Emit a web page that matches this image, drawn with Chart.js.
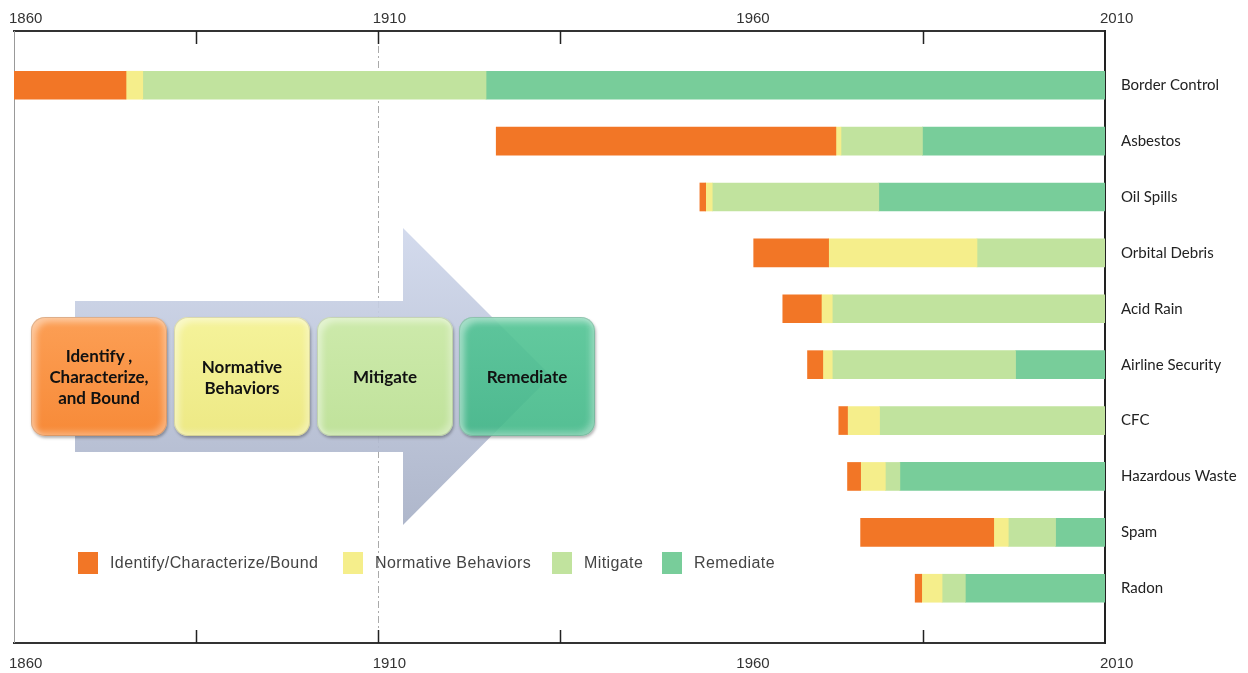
<!DOCTYPE html>
<html>
<head>
<meta charset="utf-8">
<script src="https://cdn.jsdelivr.net/npm/chart.js@4"></script>
<style>
  body { margin: 0; background: #fff; }
  #wrap { position: relative; width: 1248px; height: 673px; }
  #arrow { position: absolute; left: 0; top: 0; pointer-events: none; }
  .box {
    position: absolute; top: 317px; width: 136px; height: 119px;
    border-radius: 14px; display: flex; align-items: center; justify-content: center;
    text-align: center; font: bold 17px Lato, sans-serif; line-height: 21px; color: #111;
    box-sizing: border-box;
    box-shadow: inset 0 0 0 1px rgba(0,0,0,0.12), inset 5px 5px 6px rgba(255,255,255,0.45),
      inset -4px -4px 6px rgba(255,255,255,0.35), 1px 2px 3px rgba(0,0,0,0.3);
  }
  #legend { position: absolute; left: 0; top: 552px; width: 900px; height: 22px;
    font: 16px "Liberation Sans", Arial, sans-serif; letter-spacing: 0.4px; color: #444; }
  #legend .item { position: absolute; top: 0; display: flex; align-items: center; height: 22px; white-space: nowrap; }
  #legend .sw { width: 20px; height: 22px; margin-right: 12px; }
</style>
</head>
<body>
<div id="wrap">
  <canvas id="chart" width="1248" height="673"></canvas>
  <svg id="arrow" width="1248" height="673">
    <defs>
      <linearGradient id="arrowFill" x1="0" y1="0" x2="0" y2="1">
        <stop offset="0" stop-color="#d0d8ec"/>
        <stop offset="1" stop-color="#a8b1c7"/>
      </linearGradient>
    </defs>
    <polygon points="75,301 403,301 403,228 551,376 403,525 403,452 75,452" fill="url(#arrowFill)" opacity="0.92"/>
  </svg>
  <div class="box" style="left:31px;background:linear-gradient(#fc9f55,#f78a38)">Identify ,<br>Characterize,<br>and Bound</div>
  <div class="box" style="left:174px;background:linear-gradient(#f5f39a,#ede985)">Normative<br>Behaviors</div>
  <div class="box" style="left:317px;background:linear-gradient(#cdeaab,#c0e29b)">Mitigate</div>
  <div class="box" style="left:459px;background:linear-gradient(rgba(82,196,148,0.9),rgba(66,184,136,0.9))">Remediate</div>
  <div id="legend"></div>
</div>
<script>
// ---------- DATA ----------
const categories = ["Border Control", "Asbestos", "Oil Spills", "Orbital Debris", "Acid Rain",
  "Airline Security", "CFC", "Hazardous Waste", "Spam", "Radon"];

// year each stage begins (a stage ends where the next one begins)
const identifyStart = [1860, 1926.3, 1954.3, 1961.7, 1965.7, 1969.1, 1973.4, 1974.6, 1976.4, 1983.9];
const normativeStart = [1875.4, 1973.0, 1955.1, 1972.0, 1971.0, 1971.2, 1974.6, 1976.4, 1994.7, 1984.8];
const mitigateStart = [1877.7, 1973.7, 1956.0, 1992.4, 1972.5, 1972.5, 1979.0, 1979.8, 1996.7, 1987.6];
const remediateStart = [1924.9, 1984.9, 1978.9, 2010, 2010, 1997.7, 2010, 1981.8, 2003.2, 1990.8];
const endYear = [2010, 2010, 2010, 2010, 2010, 2010, 2010, 2010, 2010, 2010];

const stageNames = ["Identify/Characterize/Bound", "Normative Behaviors", "Mitigate", "Remediate"];
const stageColors = ["#f27626", "#f5ee8b", "#c1e39e", "#78cd9a"];

const yearTicks = [1860, 1910, 1960, 2010];
const minorTicks = [1885, 1910, 1935, 1985];
const markerYear = 1910;

// ---------- BUILD DATASETS ----------
const bounds = [identifyStart, normativeStart, mitigateStart, remediateStart, endYear];

const datasets = stageNames.map((name, s) => ({
  label: name,
  backgroundColor: stageColors[s],
  borderWidth: 0,
  grouped: false,
  barThickness: 28,
  data: categories.map((c, i) => {
    const a = bounds[s][i], b = bounds[s + 1][i];
    return { x: b > a ? [a, b] : null, y: i };
  })
}));

// ---------- LEGEND ----------
const legend = document.getElementById("legend");
const legendLeft = [78, 343, 552, 662];
stageNames.forEach((name, s) => {
  const item = document.createElement("div");
  item.className = "item";
  item.style.left = legendLeft[s] + "px";
  item.innerHTML = '<span class="sw" style="background:' + stageColors[s] + '"></span>' + name;
  legend.appendChild(item);
});

// inward tick marks, left frame line and the dashed marker line
const axisMarks = {
  id: "axisMarks",
  beforeDatasetsDraw(chart) {
    const { ctx, chartArea: a, scales } = chart;
    ctx.save();
    ctx.strokeStyle = "#999";
    ctx.lineWidth = 1;
    ctx.beginPath();
    ctx.moveTo(a.left + 0.5, a.top);
    ctx.lineTo(a.left + 0.5, a.bottom);
    ctx.stroke();

    const mx = Math.round(scales.x.getPixelForValue(markerYear)) + 0.5;
    ctx.strokeStyle = "#aaa";
    ctx.setLineDash([7, 3, 2, 3]);
    ctx.beginPath();
    ctx.moveTo(mx, a.top);
    ctx.lineTo(mx, a.bottom);
    ctx.stroke();
    ctx.setLineDash([]);

    ctx.strokeStyle = "#222";
    ctx.lineWidth = 1.5;
    minorTicks.forEach(v => {
      const px = Math.round(scales.x.getPixelForValue(v)) + 0.5;
      ctx.beginPath();
      ctx.moveTo(px, a.top);
      ctx.lineTo(px, a.top + 13);
      ctx.moveTo(px, a.bottom);
      ctx.lineTo(px, a.bottom - 13);
      ctx.stroke();
    });
    ctx.restore();
  }
};

// ---------- CHART ----------
const yearTickFont = { family: "'Liberation Sans', Arial, sans-serif", size: 15 };

function yearAxis(pos, h, pad) {
  return {
    type: "linear",
    position: pos,
    min: 1860,
    max: 2010,
    offset: false,
    grid: { display: false, drawTicks: false },
    border: { display: true, color: "#333", width: 2 },
    ticks: { align: "start", padding: pad, labelOffset: -5, color: "#333", font: yearTickFont,
      callback: v => String(v) },
    afterBuildTicks: s => { s.ticks = yearTicks.map(v => ({ value: v })); },
    afterFit: s => { s.height = h; }
  };
}

new Chart(document.getElementById("chart"), {
  type: "bar",
  data: { datasets },
  plugins: [axisMarks],
  options: {
    indexAxis: "y",
    responsive: false,
    animation: false,
    layout: { padding: { left: 14, top: 0, right: 0, bottom: 0 } },
    scales: {
      x: yearAxis("bottom", 30, 12),
      x2: yearAxis("top", 31, 3),
      y: {
        type: "linear",
        position: "right",
        reverse: true,
        offset: false,
        min: -0.97,
        max: 9.98,
        grid: { display: false, drawTicks: false, offset: false },
        border: { display: true, color: "#222", width: 2 },
        ticks: {
          padding: 16,
          color: "#222",
          font: { family: "Lato, sans-serif", size: 15 },
          callback: v => categories[v] ?? ""
        },
        afterBuildTicks: s => { s.ticks = categories.map((c, i) => ({ value: i })); },
        afterFit: s => { s.width = 143; }
      }
    },
    plugins: {
      legend: { display: false },
      tooltip: { enabled: false }
    }
  }
});
</script>
</body>
</html>
